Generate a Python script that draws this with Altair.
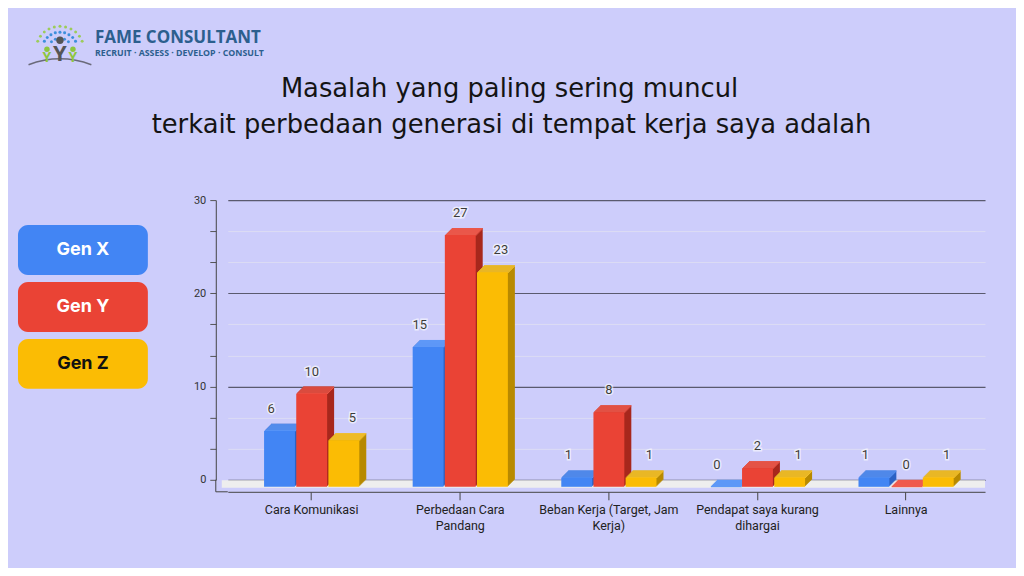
import altair as alt
import pandas as pd
import numpy as np

# ---------------- data ----------------
categories = [
    "Cara Komunikasi",
    "Perbedaan Cara Pandang",
    "Beban Kerja (Target, Jam Kerja)",
    "Pendapat saya kurang dihargai",
    "Lainnya",
]
series = ["Gen X", "Gen Y", "Gen Z"]
gen_x = [6, 15, 1, 0, 1]
gen_y = [10, 27, 8, 2, 0]
gen_z = [5, 23, 1, 1, 1]

label_lines = {
    "Perbedaan Cara Pandang": ["Perbedaan Cara", "Pandang"],
    "Beban Kerja (Target, Jam Kerja)": ["Beban Kerja (Target, Jam", "Kerja)"],
    "Pendapat saya kurang dihargai": ["Pendapat saya kurang", "dihargai"],
}
title_lines = [
    "Masalah yang paling sering muncul",
    "terkait perbedaan generasi di tempat kerja saya adalah",
]
y_all = [0, 10 / 3, 20 / 3, 10, 40 / 3, 50 / 3, 20, 70 / 3, 80 / 3, 30]

# ---------------- styles ----------------
BG = "#cdcdfb"
front_cols = ["#4285f4", "#ea4335", "#fbbc04"]
top_cols = ["#5e98f7", "#ef5b4e", "#fcc935"]
side_cols = ["#2c62c4", "#a8281d", "#b88a00"]
W, H, D = 758, 280, 7
PO = 0.0479            # outer padding of the category band scale
STEP = W / (len(categories) + 2 * PO)

rows = []
for s, vals in zip(series, [gen_x, gen_y, gen_z]):
    for c, v in zip(categories, vals):
        rows.append({"category": c, "series": s, "value": v})
df = pd.DataFrame(rows)

# x-label wrapping expression
expr = "datum.label"
for k, v in label_lines.items():
    expr = f"datum.label == '{k}' ? ['{v[0]}', '{v[1]}'] : (" + expr + ")"

major_test = "abs(datum.value - round(datum.value / 10) * 10) < 0.01"

xaxis = alt.Axis(
    offset=12, title=None, labelExpr=expr, labelAngle=0, labelFont="Roboto",
    labelFontSize=12.5, labelColor="#222222", labelPadding=4, labelLineHeight=16,
    domainColor="#444444", tickColor="#444444", tickSize=8, labelLimit=200,
    grid=False,
)
yaxis = alt.Axis(
    offset=12, title=None, values=y_all, labelFont="Roboto", labelFontSize=11,
    labelColor="#333333", labelPadding=4, tickSize=6, domainColor="#444444",
    tickColor="#555555",
    labelExpr=f"{major_test} ? datum.label : ''",
    grid=True,
    gridColor={"condition": {"test": major_test, "value": "#5a5a6e"}, "value": "#dcdcf4"},
    gridWidth={"condition": {"test": major_test, "value": 1.2}, "value": 1},
)

base = alt.Chart(df).encode(
    x=alt.X("category:N", sort=categories,
            scale=alt.Scale(paddingInner=0, paddingOuter=PO, align=0.674), axis=xaxis),
    y=alt.Y("value:Q", scale=alt.Scale(domain=[0, 30], nice=False), axis=yaxis),
)


def xoff(shift):
    return alt.XOffset("series:N", sort=series,
                       scale=alt.Scale(domain=series, range=[shift, STEP + shift],
                                       paddingInner=0.04, paddingOuter=0.83))


def col(rng):
    return alt.Color("series:N", sort=series,
                     scale=alt.Scale(domain=series, range=rng), legend=None)


one = pd.DataFrame({"a": [0]})
floor = alt.Chart(one).mark_rect(color="#eeeeee").encode(
    x=alt.value(-6), x2=alt.value(W), y=alt.value(H + 0.5), y2=alt.value(H + 8)
)
ext_h = alt.Chart(one).mark_rule(color="#444444").encode(
    x=alt.value(-12), x2=alt.value(0), y=alt.value(H + 12)
)
ext_v = alt.Chart(one).mark_rule(color="#444444").encode(
    x=alt.value(-12), y=alt.value(H), y2=alt.value(H + 12)
)

layers = [floor, ext_h, ext_v]
for j in range(D, 0, -1):
    layers.append(
        base.mark_bar(yOffset=D - j, y2Offset=D - j).encode(
            xOffset=xoff(j), y2=alt.datum(0), color=col(side_cols))
    )
    layers.append(
        base.mark_bar(yOffset=D - j, y2Offset=D - j + 1.4).encode(
            xOffset=xoff(j), y2=alt.Y2("value:Q"), color=col(top_cols))
    )
layers.append(
    base.mark_bar(yOffset=D, y2Offset=D).encode(
        xOffset=xoff(0), y2=alt.datum(0), color=col(front_cols))
)
layers.append(
    base.mark_text(dy=-15, font="Roboto", fontSize=13, stroke="#ffffff",
                   strokeWidth=3, strokeOpacity=0.6, fill="#ffffff").encode(
        xOffset=xoff(0), text="value:Q")
)
layers.append(
    base.mark_text(dy=-15, font="Roboto", fontSize=13, color="#3a3a3a").encode(
        xOffset=xoff(0), text="value:Q")
)

main = (alt.layer(*layers)
        .resolve_scale(color="independent", xOffset="independent")
        .properties(width=W, height=H))

# ---------------- legend ----------------
leg_df = pd.DataFrame({"series": series})
leg_base = alt.Chart(leg_df).encode(
    y=alt.Y("series:N", sort=series, axis=None,
            scale=alt.Scale(paddingInner=0.123, paddingOuter=1, align=0.219))
)
leg_rect = leg_base.mark_rect(cornerRadius=10).encode(
    x=alt.value(0), x2=alt.value(130),
    color=alt.Color("series:N", sort=series,
                    scale=alt.Scale(domain=series, range=front_cols), legend=None),
)
leg_txt = leg_base.mark_text(font="Inter", fontSize=18, fontWeight="bold").encode(
    x=alt.value(65), text="series:N",
    color=alt.condition("datum.series == 'Gen Z'", alt.value("#111111"), alt.value("#ffffff")),
)
legend = alt.layer(leg_rect, leg_txt).properties(width=130, height=278)

# ---------------- header (logo + title) ----------------
cx, cy = 42, 32
dots = []
for r, a0, a1, n, c in [(24, 22, 158, 11, "#9ccc5a"), (18, 30, 150, 9, "#3d8fdc"),
                        (12, 45, 135, 5, "#3d8fdc")]:
    for a in np.linspace(a0, a1, n):
        t = np.deg2rad(a)
        dots.append({"px": cx + r * np.cos(t), "py": cy - r * np.sin(t), "c": c})
dots_df = pd.DataFrame(dots)
logo_dots = alt.Chart(dots_df).mark_circle(size=9, opacity=1).encode(
    x=alt.X("px:Q", scale=None), y=alt.Y("py:Q", scale=None),
    color=alt.Color("c:N", scale=None),
)
head = alt.Chart(one).mark_circle(size=55, color="#555555", opacity=1).encode(
    x=alt.value(42), y=alt.value(22))
body_c = alt.Chart(one).mark_text(text="Y", font="Open Sans", fontSize=22,
                                  fontWeight="bold", color="#555555").encode(
    x=alt.value(42), y=alt.value(36))
heads_g = [alt.Chart(one).mark_circle(size=30, color="#8dc63f", opacity=1).encode(
    x=alt.value(px), y=alt.value(31)) for px in (29, 55)]
bodies_g = [alt.Chart(one).mark_text(text="Y", font="Open Sans", fontSize=14,
                                     fontWeight="bold", color="#8dc63f").encode(
    x=alt.value(px), y=alt.value(40)) for px in (29, 55)]
swoosh = alt.Chart(one).mark_arc(radius=90, radius2=88.5, theta=2 * np.pi - 0.36,
                                 theta2=2 * np.pi + 0.36, color="#6a6a7a").encode(
    x=alt.value(42), y=alt.value(130))
brand = alt.Chart(one).mark_text(text="FAME CONSULTANT", font="Open Sans", fontSize=17,
                                 fontWeight="bold", color="#2c5f8e", align="left",
                                 baseline="middle").encode(x=alt.value(77), y=alt.value(20))
tagline = alt.Chart(one).mark_text(text="RECRUIT · ASSESS · DEVELOP · CONSULT",
                                   font="Open Sans", fontSize=8.8, fontWeight="bold",
                                   color="#2c5f8e", align="left",
                                   baseline="middle").encode(x=alt.value(77), y=alt.value(35))
t1 = alt.Chart(one).mark_text(text=title_lines[0], font="DejaVu Sans", fontSize=25.8,
                              color="#141414", align="center", baseline="middle").encode(
    x=alt.value(492), y=alt.value(71))
t2 = alt.Chart(one).mark_text(text=title_lines[1], font="DejaVu Sans", fontSize=25.8,
                              color="#141414", align="center", baseline="middle").encode(
    x=alt.value(494), y=alt.value(107))

header = alt.layer(swoosh, logo_dots, head, body_c, *heads_g, *bodies_g, brand, tagline,
                   t1, t2).properties(width=990, height=170)

body = alt.hconcat(legend, main, spacing=45).resolve_scale(color="independent")

chart = (
    alt.vconcat(header, body, spacing=6)
    .resolve_scale(color="independent")
    .properties(padding={"left": 10, "top": 10, "right": 9, "bottom": 35})
    .configure(background=BG)
    .configure_view(stroke=None)
)

chart.save("out.html", embed_options={"renderer": "svg", "actions": False})
